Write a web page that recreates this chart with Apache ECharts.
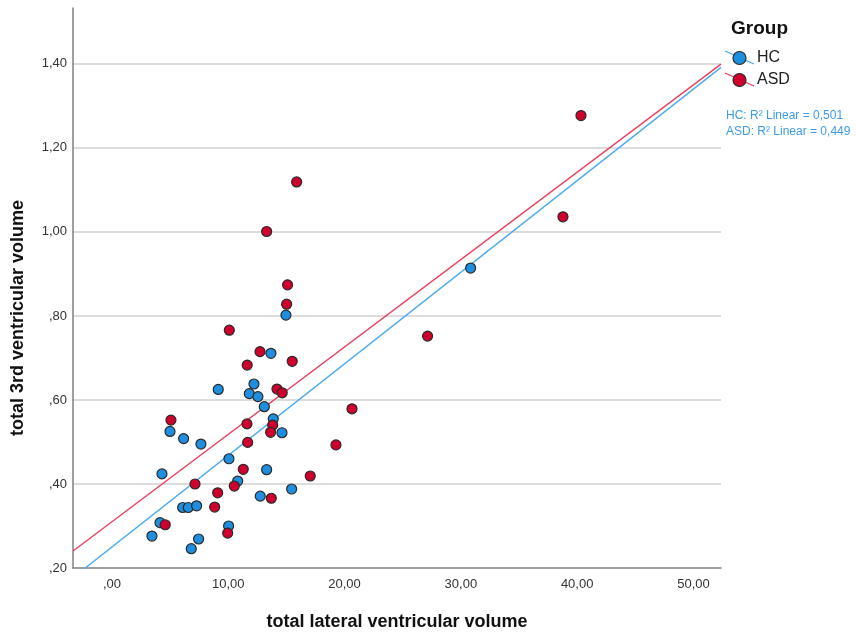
<!DOCTYPE html>
<html>
<head>
<meta charset="utf-8">
<script src="https://cdn.jsdelivr.net/npm/echarts@6/dist/echarts.min.js"></script>
<style>
  html, body { margin: 0; padding: 0; background: #ffffff; }
  #chart { width: 856px; height: 637px; }
</style>
</head>
<body>
<div id="chart"></div>
<script>
// Groups and their scatter values (lateral vs 3rd ventricular volume)
const groups = ['HC', 'ASD'];

const hcX = [30.84, 14.96, 13.67, 9.14, 12.21, 11.81, 12.55, 13.10, 13.87, 14.62,
             7.65, 4.99, 6.16, 10.06, 13.30, 10.81, 15.45, 12.75, 4.30, 6.08,
             6.56, 7.28, 4.13, 10.03, 3.44, 7.45, 6.82];
const hcY = [0.914, 0.802, 0.711, 0.625, 0.638, 0.615, 0.608, 0.584, 0.555, 0.522,
             0.495, 0.525, 0.508, 0.460, 0.434, 0.407, 0.388, 0.371, 0.424, 0.344,
             0.344, 0.348, 0.308, 0.300, 0.276, 0.269, 0.246];

const asdX = [40.33, 38.78, 27.14, 20.64, 19.26, 15.88, 13.30, 15.10, 15.02, 10.09,
              12.73, 15.50, 11.63, 14.19, 14.64, 11.61, 13.82, 13.64, 11.67, 5.07,
              11.29, 17.05, 10.52, 9.09, 13.70, 8.83, 7.14, 4.58, 9.95];
const asdY = [1.277, 1.036, 0.752, 0.579, 0.493, 1.119, 1.001, 0.874, 0.828, 0.766,
              0.715, 0.692, 0.683, 0.626, 0.617, 0.543, 0.540, 0.523, 0.499, 0.552,
              0.435, 0.419, 0.395, 0.379, 0.366, 0.345, 0.400, 0.303, 0.283];

// Linear fit for each group (HC, ASD)
const fitIntercept = [0.250, 0.310];
const fitSlope = [0.0218, 0.0208];
const fitR2 = ['0,501', '0,449'];

// Axis tick values
const xTicks = [0, 10, 20, 30, 40, 50];
const yTicks = [0.2, 0.4, 0.6, 0.8, 1.0, 1.2, 1.4];

const X_MIN = -3.35, X_MAX = 52.37;
const Y_MIN = 0.2, Y_MAX = 1.533;

const COLORS = { fill: ['#1e8ede', '#d0002c'], line: ['#4aaaf0', '#e8405e'], note: '#3c9ce9' };
const FONT = '"Liberation Sans", Arial, sans-serif';

// SPSS-style number format: comma decimal, no leading zero
function fmt(v) {
  let s = Math.abs(v).toFixed(2).replace('.', ',');
  if (s.startsWith('0,')) s = s.slice(1);
  return (v < 0 ? '-' : '') + s;
}
function isTick(v, list) {
  return list.some(t => Math.abs(t - v) < 1e-6);
}
function pairs(xs, ys) { return xs.map((x, i) => [x, ys[i]]); }
function fitLine(g) {
  return [X_MIN, X_MAX].map(x => [x, fitIntercept[g] + fitSlope[g] * x]);
}

const chart = echarts.init(document.getElementById('chart'), null, { renderer: 'canvas' });

const pointData = [pairs(hcX, hcY), pairs(asdX, asdY)];

const series = [];
groups.forEach((name, g) => {
  series.push({
    name: name + ' fit',
    type: 'line',
    data: fitLine(g),
    showSymbol: false,
    symbol: 'none',
    clip: true,
    silent: true,
    z: 2,
    lineStyle: { color: COLORS.line[g], width: 1.4 }
  });
});
groups.forEach((name, g) => {
  series.push({
    name: name,
    type: 'scatter',
    data: pointData[g],
    symbol: 'circle',
    symbolSize: 10,
    z: 3,
    itemStyle: { color: COLORS.fill[g], borderColor: '#2a2a2a', borderWidth: 1.2, opacity: 1 }
  });
});

// Legend block and fit notes drawn on the right
const legendGraphics = [
  { type: 'text', left: 731, top: 19, style: { text: 'Group', font: 'bold 19px ' + FONT, fill: '#111' } }
];
groups.forEach((name, g) => {
  const cy = 58 + g * 22;
  legendGraphics.push(
    { type: 'line', shape: { x1: 725, y1: cy - 7, x2: 754, y2: cy + 6 }, style: { stroke: COLORS.line[g], lineWidth: 1.3 } },
    { type: 'circle', shape: { cx: 739.5, cy: cy, r: 6.5 }, style: { fill: COLORS.fill[g], stroke: '#2a2a2a', lineWidth: 1.2 } },
    { type: 'text', x: 757, y: cy, style: { text: name, font: '16px ' + FONT, fill: '#222', verticalAlign: 'middle' } },
    { type: 'text', x: 726, y: 116 + g * 16, style: { text: name + ': R\u00b2 Linear = ' + fitR2[g], font: '12px ' + FONT, fill: COLORS.note, verticalAlign: 'middle' } }
  );
});
legendGraphics.push({
  type: 'text', x: 18, y: 318, rotation: Math.PI / 2,
  style: { text: 'total 3rd ventricular volume', font: 'bold 18px ' + FONT, fill: '#111', align: 'center', verticalAlign: 'middle' }
});

chart.setOption({
  animation: false,
  backgroundColor: '#ffffff',
  grid: { left: 73, right: 135, top: 8, bottom: 69, containLabel: false },
  xAxis: {
    type: 'value',
    min: X_MIN,
    max: X_MAX,
    splitNumber: 5,
    name: 'total lateral ventricular volume',
    nameLocation: 'middle',
    nameGap: 45,
    nameTextStyle: { fontFamily: FONT, fontWeight: 'bold', fontSize: 18, color: '#111' },
    axisLine: { show: true, onZero: false, lineStyle: { color: '#808080', width: 1.5 } },
    axisTick: { show: false },
    splitLine: { show: false },
    axisLabel: {
      margin: 10,
      fontFamily: FONT, fontSize: 13, color: '#333',
      formatter: v => isTick(v, xTicks) ? fmt(v) : ''
    }
  },
  yAxis: {
    type: 'value',
    min: Y_MIN,
    max: Y_MAX,
    interval: 0.2,
    axisLine: { show: true, onZero: false, lineStyle: { color: '#808080', width: 1.5 } },
    axisTick: { show: false },
    splitLine: { show: true, showMinLine: false, showMaxLine: false, lineStyle: { color: '#d0d0d0', width: 1.5 } },
    axisLabel: {
      margin: 6,
      showMaxLabel: false,
      fontFamily: FONT, fontSize: 13, color: '#333',
      formatter: v => isTick(v, yTicks) ? fmt(v) : ''
    }
  },
  graphic: legendGraphics,
  series: series
});
</script>
</body>
</html>
